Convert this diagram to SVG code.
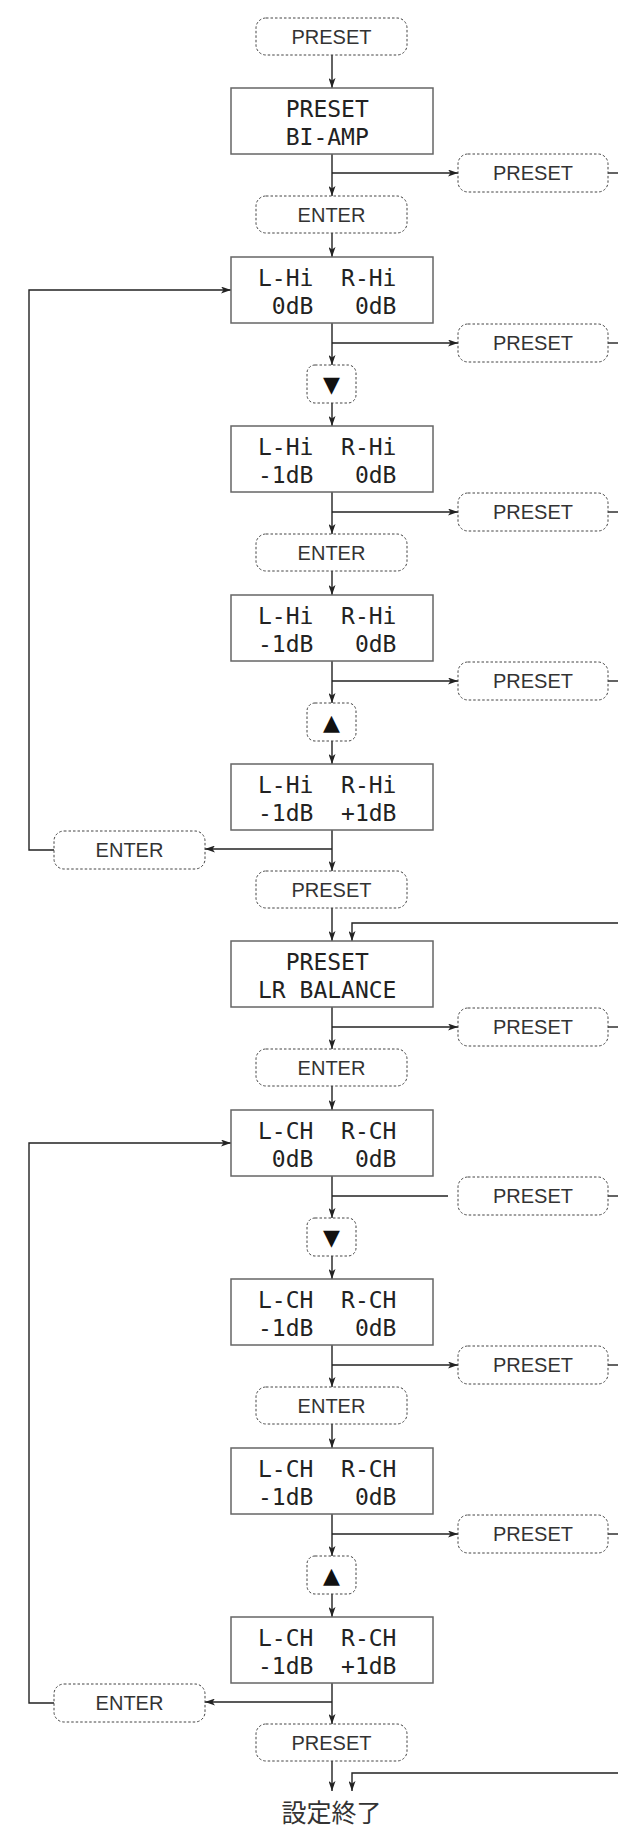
<svg xmlns="http://www.w3.org/2000/svg" width="618" height="1827" viewBox="0 0 618 1827">
<style>
.lcdbox{fill:#fff;stroke:#666;stroke-width:1.5}
.btn{fill:#fff;stroke:#444;stroke-width:1;stroke-dasharray:2.5 2}
.bt{font-family:"Liberation Sans",Arial,sans-serif;font-size:20px;fill:#333;text-anchor:middle}
.lcd{font-family:"DejaVu Sans Mono",monospace;font-size:23px;fill:#222}
.tri{font-family:"DejaVu Sans",sans-serif;font-size:22px;fill:#111;text-anchor:middle}
.c{fill:none;stroke:#222;stroke-width:1.4}
.ca{fill:none;stroke:#222;stroke-width:1.4;marker-end:url(#ah)}
.end{font-family:"Noto Sans CJK JP",sans-serif;font-size:25px;fill:#333;text-anchor:middle}
</style>
<defs>
<marker id="ah" viewBox="0 0 10 7" refX="10" refY="3.5" markerWidth="10" markerHeight="7" markerUnits="userSpaceOnUse" orient="auto">
<path d="M0,0 L10,3.5 L0,7 L2.5,3.5 z" fill="#222"/>
</marker>
</defs>
<g id="connectors">
<path class="ca" d="M332 55 V88"/>
<path class="ca" d="M332 154 V196"/>
<path class="ca" d="M332 173 H458"/>
<path class="c" d="M608 173 H618"/>
<path class="ca" d="M332 233 V257"/>
<path class="ca" d="M332 323 V365"/>
<path class="ca" d="M332 343 H458"/>
<path class="c" d="M608 343 H618"/>
<path class="ca" d="M332 403 V426"/>
<path class="ca" d="M332 492 V534"/>
<path class="ca" d="M332 512 H458"/>
<path class="c" d="M608 512 H618"/>
<path class="ca" d="M332 571 V595"/>
<path class="ca" d="M332 661 V703"/>
<path class="ca" d="M332 681 H458"/>
<path class="c" d="M608 681 H618"/>
<path class="ca" d="M332 741 V764"/>
<path class="ca" d="M332 830 V871"/>
<path class="ca" d="M332 849 H205"/>
<path class="ca" d="M54 850 H29 V290 H231"/>
<path class="ca" d="M332 908 V941"/>
<path class="ca" d="M618 923 H352 V941"/>
<path class="ca" d="M332 1007 V1049"/>
<path class="ca" d="M332 1027 H458"/>
<path class="c" d="M608 1027 H618"/>
<path class="ca" d="M332 1086 V1110"/>
<path class="ca" d="M332 1176 V1218"/>
<path class="c" d="M332 1196 H448"/>
<path class="c" d="M608 1196 H618"/>
<path class="ca" d="M332 1256 V1279"/>
<path class="ca" d="M332 1345 V1387"/>
<path class="ca" d="M332 1365 H458"/>
<path class="c" d="M608 1365 H618"/>
<path class="ca" d="M332 1424 V1448"/>
<path class="ca" d="M332 1514 V1556"/>
<path class="ca" d="M332 1534 H458"/>
<path class="c" d="M608 1534 H618"/>
<path class="ca" d="M332 1594 V1617"/>
<path class="ca" d="M332 1683 V1724"/>
<path class="ca" d="M332 1702 H205"/>
<path class="ca" d="M54 1703 H29 V1143 H231"/>
<path class="ca" d="M332 1761 V1791"/>
<path class="ca" d="M618 1773 H352 V1791"/>
</g>
<g id="btn-preset-start"><rect class="btn" x="256" y="18" width="151" height="37" rx="10"/><text class="bt" x="331.5" y="43.5">PRESET</text></g>
<g id="lcd-biamp"><rect class="lcdbox" x="231" y="88" width="202" height="66"/><text class="lcd" xml:space="preserve" x="258" y="117">  PRESET</text><text class="lcd" xml:space="preserve" x="258" y="145">  BI-AMP</text></g>
<g id="btn-preset-r1"><rect class="btn" x="458" y="154" width="150" height="38" rx="10"/><text class="bt" x="533" y="180">PRESET</text></g>
<g id="btn-enter-1"><rect class="btn" x="256" y="196" width="151" height="37" rx="10"/><text class="bt" x="331.5" y="221.5">ENTER</text></g>
<g id="lcd-hi-1"><rect class="lcdbox" x="231" y="257" width="202" height="66"/><text class="lcd" xml:space="preserve" x="258" y="286">L-Hi  R-Hi</text><text class="lcd" xml:space="preserve" x="258" y="314"> 0dB   0dB</text></g>
<g id="btn-preset-r2"><rect class="btn" x="458" y="324" width="150" height="38" rx="10"/><text class="bt" x="533" y="350">PRESET</text></g>
<g id="btn-down-1"><rect class="btn" x="307" y="365" width="49" height="38" rx="8"/><text class="tri" x="331.5" y="392">▼</text></g>
<g id="lcd-hi-2"><rect class="lcdbox" x="231" y="426" width="202" height="66"/><text class="lcd" xml:space="preserve" x="258" y="455">L-Hi  R-Hi</text><text class="lcd" xml:space="preserve" x="258" y="483">-1dB   0dB</text></g>
<g id="btn-preset-r3"><rect class="btn" x="458" y="493" width="150" height="38" rx="10"/><text class="bt" x="533" y="519">PRESET</text></g>
<g id="btn-enter-2"><rect class="btn" x="256" y="534" width="151" height="37" rx="10"/><text class="bt" x="331.5" y="559.5">ENTER</text></g>
<g id="lcd-hi-3"><rect class="lcdbox" x="231" y="595" width="202" height="66"/><text class="lcd" xml:space="preserve" x="258" y="624">L-Hi  R-Hi</text><text class="lcd" xml:space="preserve" x="258" y="652">-1dB   0dB</text></g>
<g id="btn-preset-r4"><rect class="btn" x="458" y="662" width="150" height="38" rx="10"/><text class="bt" x="533" y="688">PRESET</text></g>
<g id="btn-up-1"><rect class="btn" x="307" y="703" width="49" height="38" rx="8"/><text class="tri" x="331.5" y="730">▲</text></g>
<g id="lcd-hi-4"><rect class="lcdbox" x="231" y="764" width="202" height="66"/><text class="lcd" xml:space="preserve" x="258" y="793">L-Hi  R-Hi</text><text class="lcd" xml:space="preserve" x="258" y="821">-1dB  +1dB</text></g>
<g id="btn-enter-left-1"><rect class="btn" x="54" y="831" width="151" height="38" rx="10"/><text class="bt" x="129.5" y="857">ENTER</text></g>
<g id="btn-preset-2"><rect class="btn" x="256" y="871" width="151" height="37" rx="10"/><text class="bt" x="331.5" y="896.5">PRESET</text></g>
<g id="lcd-lrbal"><rect class="lcdbox" x="231" y="941" width="202" height="66"/><text class="lcd" xml:space="preserve" x="258" y="970">  PRESET</text><text class="lcd" xml:space="preserve" x="258" y="998">LR BALANCE</text></g>
<g id="btn-preset-r5"><rect class="btn" x="458" y="1008" width="150" height="38" rx="10"/><text class="bt" x="533" y="1034">PRESET</text></g>
<g id="btn-enter-3"><rect class="btn" x="256" y="1049" width="151" height="37" rx="10"/><text class="bt" x="331.5" y="1074.5">ENTER</text></g>
<g id="lcd-ch-1"><rect class="lcdbox" x="231" y="1110" width="202" height="66"/><text class="lcd" xml:space="preserve" x="258" y="1139">L-CH  R-CH</text><text class="lcd" xml:space="preserve" x="258" y="1167"> 0dB   0dB</text></g>
<g id="btn-preset-r6"><rect class="btn" x="458" y="1177" width="150" height="38" rx="10"/><text class="bt" x="533" y="1203">PRESET</text></g>
<g id="btn-down-2"><rect class="btn" x="307" y="1218" width="49" height="38" rx="8"/><text class="tri" x="331.5" y="1245">▼</text></g>
<g id="lcd-ch-2"><rect class="lcdbox" x="231" y="1279" width="202" height="66"/><text class="lcd" xml:space="preserve" x="258" y="1308">L-CH  R-CH</text><text class="lcd" xml:space="preserve" x="258" y="1336">-1dB   0dB</text></g>
<g id="btn-preset-r7"><rect class="btn" x="458" y="1346" width="150" height="38" rx="10"/><text class="bt" x="533" y="1372">PRESET</text></g>
<g id="btn-enter-4"><rect class="btn" x="256" y="1387" width="151" height="37" rx="10"/><text class="bt" x="331.5" y="1412.5">ENTER</text></g>
<g id="lcd-ch-3"><rect class="lcdbox" x="231" y="1448" width="202" height="66"/><text class="lcd" xml:space="preserve" x="258" y="1477">L-CH  R-CH</text><text class="lcd" xml:space="preserve" x="258" y="1505">-1dB   0dB</text></g>
<g id="btn-preset-r8"><rect class="btn" x="458" y="1515" width="150" height="38" rx="10"/><text class="bt" x="533" y="1541">PRESET</text></g>
<g id="btn-up-2"><rect class="btn" x="307" y="1556" width="49" height="38" rx="8"/><text class="tri" x="331.5" y="1583">▲</text></g>
<g id="lcd-ch-4"><rect class="lcdbox" x="231" y="1617" width="202" height="66"/><text class="lcd" xml:space="preserve" x="258" y="1646">L-CH  R-CH</text><text class="lcd" xml:space="preserve" x="258" y="1674">-1dB  +1dB</text></g>
<g id="btn-enter-left-2"><rect class="btn" x="54" y="1684" width="151" height="38" rx="10"/><text class="bt" x="129.5" y="1710">ENTER</text></g>
<g id="btn-preset-3"><rect class="btn" x="256" y="1724" width="151" height="37" rx="10"/><text class="bt" x="331.5" y="1749.5">PRESET</text></g>
<g id="end"><text class="end" x="331.5" y="1822">設定終了</text></g>
</svg>
